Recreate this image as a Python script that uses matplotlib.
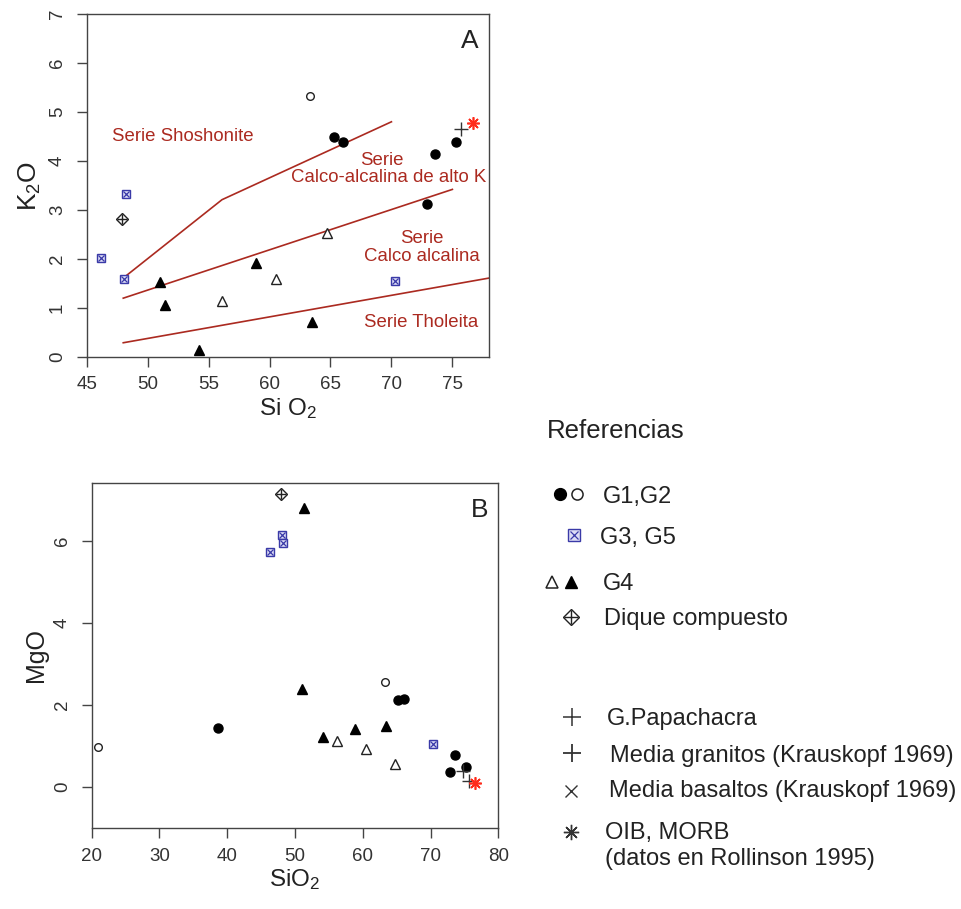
import matplotlib
matplotlib.use("Agg")
import matplotlib.pyplot as plt

plt.rcParams['font.family'] = ['Liberation Sans', 'DejaVu Sans']
plt.rcParams['mathtext.fontset'] = 'custom'
plt.rcParams['mathtext.rm'] = 'Liberation Sans'
plt.rcParams['mathtext.it'] = 'Liberation Sans'

# ---- Panel A: SiO2 vs K2O ----
a_g1_x = [65.3, 66.0, 73.6, 75.3, 72.9]
a_g1_y = [4.49, 4.38, 4.15, 4.39, 3.13]
a_g2_x = [63.3]
a_g2_y = [5.33]
a_g35_x = [48.2, 46.2, 48.1, 70.3]
a_g35_y = [3.32, 2.02, 1.60, 1.55]
a_g4f_x = [51.0, 51.4, 54.2, 58.9, 63.5]
a_g4f_y = [1.53, 1.06, 0.14, 1.92, 0.72]
a_g4o_x = [56.1, 60.5, 64.7]
a_g4o_y = [1.15, 1.60, 2.54]
a_dique_x = [47.9]
a_dique_y = [2.82]
a_papa_x = [75.7]
a_papa_y = [4.66]
a_oib_x = [76.7]
a_oib_y = [4.78]

# series boundaries
shosh_x = [48.3, 56.1, 70.0]
shosh_y = [1.67, 3.21, 4.80]
highk_x = [48.0, 75.0]
highk_y = [1.20, 3.42]
thol_x = [48.0, 78.0]
thol_y = [0.29, 1.61]

# ---- Panel B: SiO2 vs MgO ----
b_g1_x = [38.7, 65.25, 66.1, 73.6, 75.3, 72.9]
b_g1_y = [1.45, 2.13, 2.14, 0.78, 0.49, 0.36]
b_g2_x = [21.0, 63.3]
b_g2_y = [0.99, 2.57]
b_g35_x = [48.1, 48.2, 46.3, 70.3]
b_g35_y = [6.14, 5.96, 5.73, 1.05]
b_g4f_x = [51.4, 51.0, 54.1, 58.9, 63.4]
b_g4f_y = [6.80, 2.40, 1.23, 1.42, 1.48]
b_g4o_x = [56.2, 60.5, 64.7]
b_g4o_y = [1.13, 0.93, 0.56]
b_dique_x = [47.9]
b_dique_y = [7.14]
b_plus_x = [74.8, 75.7]
b_plus_y = [0.40, 0.16]
b_oib_x = [76.6]
b_oib_y = [0.10]

RED = '#ab2a20'
BRIGHT = '#ff2a1a'
BLUE = '#3a3aa8'
DARK = '#222222'
AXC = '#444444'


def g35(ax, x, y, ms=6):
    ax.plot(x, y, 's', ms=ms, mfc='#dcdcf4', mec=BLUE, mew=1.0, ls='none')
    ax.plot(x, y, 'x', ms=ms * 0.7, mec=BLUE, mew=0.9, ls='none')


def dique(ax, x, y, ms=7):
    ax.plot(x, y, 'D', ms=ms * 0.85, mfc='none', mec=DARK, mew=1.0, ls='none')
    ax.plot(x, y, '+', ms=ms * 1.1, mec=DARK, mew=1.0, ls='none')


def style(ax):
    for s in ax.spines.values():
        s.set_color(AXC)
        s.set_linewidth(1.0)
    ax.tick_params(direction='out', length=7, width=1.0, color=AXC,
                   labelsize=13.5, labelcolor='#333333')
    ax.tick_params(axis='x', pad=7)
    ax.tick_params(axis='y', pad=8)
    for lab in ax.get_yticklabels():
        lab.set_rotation(90)
        lab.set_va('center')


fig = plt.figure(figsize=(9.61, 9.09), dpi=100)

# panel A
axA = fig.add_axes([0.0902, 0.6073, 0.4186, 0.3773])
axA.plot(shosh_x, shosh_y, color=RED, lw=1.2)
axA.plot(highk_x, highk_y, color=RED, lw=1.2)
axA.plot(thol_x, thol_y, color=RED, lw=1.2)
axA.plot(a_g1_x, a_g1_y, 'o', ms=6.5, color='black', ls='none')
axA.plot(a_g2_x, a_g2_y, 'o', ms=5.5, mfc='white', mec=DARK, mew=1.0, ls='none')
g35(axA, a_g35_x, a_g35_y)
axA.plot(a_g4f_x, a_g4f_y, '^', ms=6.5, color='black', ls='none')
axA.plot(a_g4o_x, a_g4o_y, '^', ms=7.5, mfc='white', mec=DARK, mew=1.0, ls='none')
dique(axA, a_dique_x, a_dique_y)
axA.plot(a_papa_x, a_papa_y, '+', ms=10, mec='#333333', mew=1.0, ls='none')
axA.plot(a_oib_x, a_oib_y, marker=(8, 2, 0), ms=9, mec=BRIGHT, mew=1.2, ls='none')
axA.set_xlim(45, 78)
axA.set_ylim(0, 7)
axA.set_xticks([45, 50, 55, 60, 65, 70, 75])
axA.set_yticks(range(0, 8))
style(axA)
axA.set_xlabel(r'Si O$_\mathrm{2}$', fontsize=17.5, color=DARK, labelpad=2)
axA.set_ylabel(r'K$_\mathrm{2}$O', fontsize=19, color=DARK, labelpad=4)
RF = 13.4
axA.text(47.05, 4.49, 'Serie Shoshonite', color=RED, fontsize=RF, va='center')
axA.text(69.2, 4.0, 'Serie', color=RED, fontsize=RF, ha='center', va='center')
axA.text(69.8, 3.66, 'Calco-alcalina de alto K', color=RED, fontsize=RF,
         ha='center', va='center')
axA.text(72.5, 2.42, 'Serie', color=RED, fontsize=RF, ha='center', va='center')
axA.text(72.5, 2.06, 'Calco alcalina', color=RED, fontsize=RF, ha='center', va='center')
axA.text(72.4, 0.71, 'Serie Tholeita', color=RED, fontsize=RF, ha='center', va='center')
axA.text(0.975, 0.955, 'A', transform=axA.transAxes, fontsize=19, color=DARK,
         ha='right', va='top')

# panel B
axB = fig.add_axes([0.0954, 0.0888, 0.4231, 0.3802])
axB.plot(b_g1_x, b_g1_y, 'o', ms=6.5, color='black', ls='none')
axB.plot(b_g2_x, b_g2_y, 'o', ms=5.5, mfc='white', mec=DARK, mew=1.0, ls='none')
g35(axB, b_g35_x, b_g35_y)
axB.plot(b_g4f_x, b_g4f_y, '^', ms=6.5, color='black', ls='none')
axB.plot(b_g4o_x, b_g4o_y, '^', ms=7.5, mfc='white', mec=DARK, mew=1.0, ls='none')
dique(axB, b_dique_x, b_dique_y)
axB.plot(b_plus_x, b_plus_y, '+', ms=10, mec='#333333', mew=1.0, ls='none')
axB.plot(b_oib_x, b_oib_y, marker=(8, 2, 0), ms=9, mec=BRIGHT, mew=1.2, ls='none')
axB.set_xlim(20, 80)
axB.set_ylim(-1, 7.42)
axB.set_xticks([20, 30, 40, 50, 60, 70, 80])
axB.set_yticks([0, 2, 4, 6])
style(axB)
axB.set_xlabel(r'SiO$_\mathrm{2}$', fontsize=17.5, color=DARK, labelpad=2)
axB.set_ylabel('MgO', fontsize=18, color=DARK, labelpad=4)
axB.text(0.975, 0.955, 'B', transform=axB.transAxes, fontsize=19, color=DARK,
         ha='right', va='top')

# legend ("Referencias"), laid out in pixel coordinates of the figure
leg = fig.add_axes([0, 0, 1, 1], zorder=-1)
leg.set_xlim(0, 961)
leg.set_ylim(909, 0)
leg.axis('off')
leg.patch.set_alpha(0)
TF = 17
leg.text(547, 438, 'Referencias', fontsize=18.5, color=DARK, va='baseline')
leg.plot([560], [494], 'o', ms=8.5, color='black')
leg.plot([577], [494], 'o', ms=8, mfc='white', mec=DARK, mew=1.1)
leg.text(603, 503, 'G1,G2', fontsize=TF, color=DARK, va='baseline')
g35(leg, [574], [535], ms=9)
leg.text(600, 544, 'G3, G5', fontsize=TF, color=DARK, va='baseline')
leg.plot([552], [582], '^', ms=8.5, mfc='white', mec=DARK, mew=1.1)
leg.plot([571], [582], '^', ms=8.5, color='black')
leg.text(603, 590, 'G4', fontsize=TF, color=DARK, va='baseline')
dique(leg, [571], [617], ms=9)
leg.text(604, 625.5, 'Dique compuesto', fontsize=TF, color=DARK, va='baseline')
leg.plot([572], [717], '+', ms=12.5, mec='#333333', mew=1.1)
leg.text(607, 725.5, 'G.Papachacra', fontsize=TF, color=DARK, va='baseline')
leg.plot([572], [753], '+', ms=12.5, mec='#333333', mew=1.3)
leg.text(610, 762, 'Media granitos (Krauskopf 1969)', fontsize=TF, color=DARK, va='baseline')
leg.plot([571], [791], 'x', ms=8.5, mec='#333333', mew=1.0)
leg.text(609, 797, 'Media basaltos (Krauskopf 1969)', fontsize=TF, color=DARK, va='baseline')
leg.plot([571], [832], marker=(8, 2, 0), ms=11, mec='#333333', mew=1.0)
leg.text(605, 839, 'OIB, MORB', fontsize=TF, color=DARK, va='baseline')
leg.text(605, 865, '(datos en Rollinson 1995)', fontsize=TF, color=DARK, va='baseline')

fig.savefig('out.png', dpi=100)
